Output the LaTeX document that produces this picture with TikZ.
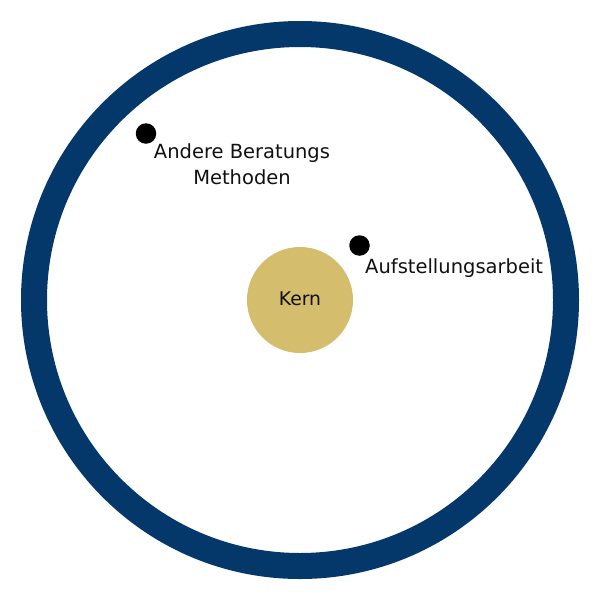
\documentclass[tikz,border=0pt]{standalone}
\usepackage{fontspec}
\setmainfont{DejaVu Sans}
\definecolor{ringblue}{HTML}{04386B}
\definecolor{coregold}{HTML}{D4BD6C}
\definecolor{txt}{HTML}{111111}
\begin{document}
\begin{tikzpicture}[x=1pt,y=-1pt,
  dot/.style={circle,fill=black,inner sep=0pt,minimum width=19.5pt,minimum height=20.5pt},
  lbl/.style={font=\fontsize{19.5}{26}\selectfont,text=txt,inner sep=0pt}]
\useasboundingbox (0,0) rectangle (600,600);
\fill[white] (0,0) rectangle (600,600);
\node[circle,draw=ringblue,line width=26pt,minimum size=532pt,inner sep=0pt] (ring) at (300,300) {};
\node[circle,fill=coregold,minimum size=106pt,inner sep=0pt] (core) at (300,300) {};
\node[lbl,anchor=base,font=\fontsize{18.8}{26}\selectfont] (kern) at (300,305) {Kern};
\node[dot] (d1) at (146,133.5) {};
\node[dot] (d2) at (359.5,245.5) {};
\node[lbl,anchor=base,align=center] (t1) at (242,184) {Andere Beratungs\\Methoden};
\node[lbl,anchor=base west] (t2) at (365,273) {Aufstellungsarbeit};
\end{tikzpicture}
\end{document}
